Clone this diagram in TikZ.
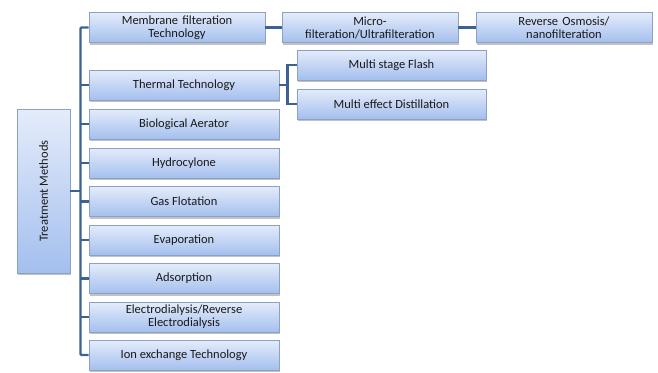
\documentclass[tikz,border=0pt]{standalone}
\usepackage{fontspec}
\setmainfont{Carlito}
\usetikzlibrary{shadows}
\definecolor{boxtop}{HTML}{E4ECFA}
\definecolor{boxbot}{HTML}{A4BFEE}
\definecolor{boxedge}{HTML}{8CA2C2}
\definecolor{linkcol}{HTML}{3A6292}
\tikzset{
  tbox/.style={draw=boxedge, line width=0.8pt, top color=boxtop, bottom color=boxbot,
    minimum height=30pt, inner sep=1pt, align=center, font=\fontsize{12.5}{13}\selectfont,
    text=black!90, drop shadow={shadow xshift=1pt, shadow yshift=-2pt, fill=black!40, opacity=0.6}},
  link/.style={draw=linkcol, line width=2.2pt}
}
\begin{document}
\begin{tikzpicture}[x=1pt,y=-1pt]
\useasboundingbox (0,0) rectangle (658,372);
% root
\node[tbox, minimum width=53pt, minimum height=164pt] (root) at (43.5,191) {};
\node[rotate=90, font=\fontsize{12.5}{13}\selectfont, text=black!90] (rootlabel) at (root.center) {Treatment Methods};
% main column
\node[tbox, minimum width=176pt, text width=170pt] (mem) at (177,27.5) {Membrane filteration\\Technology};
\node[tbox, minimum width=190pt] (therm) at (184,85) {Thermal Technology};
\node[tbox, minimum width=190pt] (bio) at (184,124) {Biological Aerator};
\node[tbox, minimum width=190pt] (hyd) at (184,163) {Hydrocylone};
\node[tbox, minimum width=190pt] (gas) at (184,201.5) {Gas Flotation};
\node[tbox, minimum width=190pt] (evap) at (184,240) {Evaporation};
\node[tbox, minimum width=190pt] (ads) at (184,278.5) {Adsorption};
\node[tbox, minimum width=190pt, text width=184pt] (elec) at (184,317) {Electrodialysis/Reverse\\Electrodialysis};
\node[tbox, minimum width=190pt] (ion) at (184,355) {Ion exchange Technology};
% membrane branch
\node[tbox, minimum width=176pt, text width=170pt] (micro) at (370,27.5) {Micro-\\filteration/Ultrafilteration};
\node[tbox, minimum width=176pt, text width=170pt] (ro) at (564,27.5) {Reverse Osmosis/\\nanofilteration};
% thermal branch
\node[tbox, minimum width=189pt] (msf) at (391.5,65) {Multi stage Flash};
\node[tbox, minimum width=189pt] (med) at (391.5,104) {Multi effect Distillation};
% trunk
\coordinate (tt) at (80.5,27.5);
\coordinate (tb) at (80.5,355);
\draw[link] (root.east) -- (root.east -| tt);
\draw[link, rounded corners=1pt] (mem.west) -- (tt) -- (tb) -- (ion.west);
\foreach \n in {therm,bio,hyd,gas,evap,ads,elec}{
  \draw[link] (\n.west -| tt) -- (\n.west);
}
\draw[link] (mem.east) -- (micro.west);
\draw[link] (micro.east) -- (ro.west);
\coordinate (tj) at (287.5,85);
\draw[link] (therm.east) -- (tj);
\draw[link] (msf.west) -- (msf.west -| tj) -- (med.west -| tj) -- (med.west);
\end{tikzpicture}
\end{document}
